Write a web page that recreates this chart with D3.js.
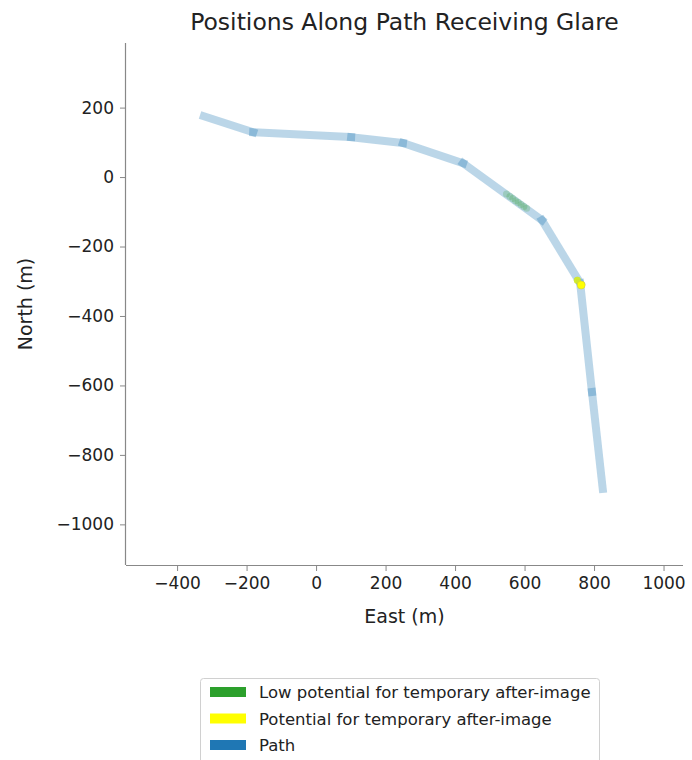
<!DOCTYPE html>
<html><head><meta charset="utf-8">
<script src="https://cdn.jsdelivr.net/npm/d3@7"></script>
<style>body{margin:0;background:#fff;font-family:"DejaVu Sans",sans-serif;}</style>
</head><body>
<svg id="c" width="692" height="760"></svg>
<script>
// Data
const pathEast  = [-323, -181, 101, 250, 423, 650, 760, 794, 825];
const pathNorth = [175, 129, 115, 98, 40, -124, -305, -619, -898];
const lowEast   = [548, 558, 566, 574, 582, 590, 598, 606, 752];
const lowNorth  = [-49, -56, -62, -68, -73, -79, -85, -90, -297];
const potEast   = [763];
const potNorth  = [-311];
const xTicks = [-400, -200, 0, 200, 400, 600, 800, 1000];
const yTicks = [200, 0, -200, -400, -600, -800, -1000];
const legendLabels = ["Low potential for temporary after-image", "Potential for temporary after-image", "Path"];
const legendColors = ["#2ca02c", "#ffff00", "#1f77b4"];

const svg = d3.select("#c");
const L = 126, R = 683, T = 43, B = 565;
const x = d3.scaleLinear().domain([-547, 1056]).range([L, R]);
const y = d3.scaleLinear().domain([-1117, 386]).range([B, T]);

// path segments
const g = svg.append("g");
for (let i = 0; i < pathEast.length - 1; i++) {
  g.append("line")
    .attr("x1", x(pathEast[i])).attr("y1", y(pathNorth[i]))
    .attr("x2", x(pathEast[i+1])).attr("y2", y(pathNorth[i+1]))
    .attr("stroke", "#1f77b4").attr("stroke-opacity", 0.3)
    .attr("stroke-width", 8).attr("stroke-linecap", "square");
}
// glare points
g.selectAll("circle.low").data(lowEast).join("circle").attr("class","low")
  .attr("cx", (d,i) => x(d)).attr("cy", (d,i) => y(lowNorth[i]))
  .attr("r", 3.5).attr("fill", "#2ca02c").attr("fill-opacity", 0.22);
g.append("circle").attr("cx", x(lowEast[8])).attr("cy", y(lowNorth[8])).attr("r", 3.5)
  .attr("fill", "#d8ec20").attr("fill-opacity", 0.9);
g.selectAll("circle.pot").data(potEast).join("circle").attr("class","pot")
  .attr("cx", (d,i) => x(d)).attr("cy", (d,i) => y(potNorth[i]))
  .attr("r", 4).attr("fill", "#ffff00").attr("stroke", "#c8c840").attr("stroke-width", 0.5);

// axes
const fmt = d => d < 0 ? "\u2212" + Math.abs(d) : d;
const ax = svg.append("g").attr("transform", `translate(0,${B})`)
  .call(d3.axisBottom(x).tickValues(xTicks).tickSize(6).tickPadding(6).tickFormat(fmt));
const ay = svg.append("g").attr("transform", `translate(${L},0)`)
  .call(d3.axisLeft(y).tickValues(yTicks).tickSize(6).tickPadding(6).tickFormat(fmt));
[ax, ay].forEach(a => {
  a.select(".domain").attr("stroke", "#888").attr("stroke-width", 1.2);
  a.selectAll(".tick line").attr("stroke", "#888");
  a.selectAll(".tick text").attr("fill", "#222").style("font-size", "17px").style("font-family", "DejaVu Sans");
});
ax.select(".domain").attr("d", `M${L},0.5H${R}`);
ay.select(".domain").attr("d", `M-0.5,${T}V${B}`);

svg.append("text").attr("x", (L+R)/2).attr("y", 30).attr("text-anchor", "middle")
  .style("font-size", "23.5px").attr("fill", "#222").text("Positions Along Path Receiving Glare");
svg.append("text").attr("x", (L+R)/2).attr("y", 623).attr("text-anchor", "middle")
  .style("font-size", "19px").attr("fill", "#222").text("East (m)");
svg.append("text").attr("transform", `translate(32,${(T+B)/2}) rotate(-90)`).attr("text-anchor", "middle")
  .style("font-size", "19px").attr("fill", "#222").text("North (m)");

// legend
const lg = svg.append("g");
lg.append("rect").attr("x", 200.5).attr("y", 678.5).attr("width", 399).attr("height", 100).attr("rx", 3)
  .attr("fill", "#fff").attr("fill-opacity", 0.8).attr("stroke", "#d0d0d0");
legendLabels.forEach((t, i) => {
  const yy = 692 + i * 26.5;
  lg.append("rect").attr("x", 210).attr("y", yy - 5).attr("width", 36).attr("height", 10).attr("fill", legendColors[i]);
  lg.append("text").attr("x", 259).attr("y", yy + 6).style("font-size", "16.5px").attr("fill", "#222").text(t);
});
</script>
</body></html>
